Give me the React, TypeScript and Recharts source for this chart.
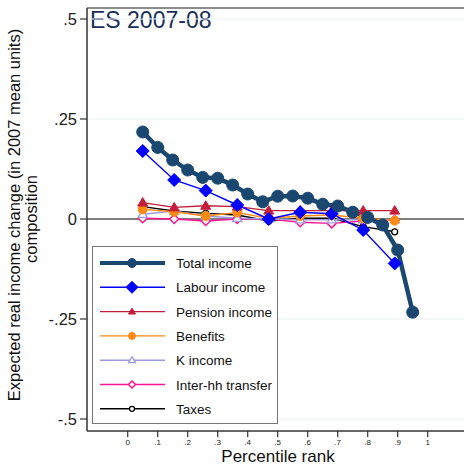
import React from 'react';
import { LineChart, Line, XAxis, YAxis, ReferenceLine } from 'recharts';

// percentile positions
const TOTAL_X = [0.05, 0.1, 0.15, 0.2, 0.25, 0.3, 0.35, 0.4, 0.45, 0.5, 0.55, 0.6, 0.65, 0.7, 0.75, 0.8, 0.85, 0.9, 0.95];
const DECILE_X = [0.05, 0.155, 0.26, 0.365, 0.47, 0.575, 0.68, 0.785, 0.89];

// expected real income change by component
const TOTAL = [0.2175, 0.179, 0.1475, 0.1225, 0.104, 0.102, 0.085, 0.0625, 0.043, 0.057, 0.0575, 0.052, 0.037, 0.0325, 0.017, 0.004, -0.015, -0.0775, -0.233];
const LABOUR = [0.17, 0.0975, 0.071, 0.035, 0.0, 0.017, 0.013, -0.0275, -0.111];
const PENSION = [0.041, 0.029, 0.033, 0.031, 0.021, 0.021, 0.021, 0.021, 0.021];
const BENEFITS = [0.024, 0.018, 0.0075, 0.016, 0.002, 0.0075, 0.01, 0.002, -0.004];
const K_INCOME = [0.012, 0.02, 0.0075, 0.002, 0.0, -0.002, -0.002, -0.002, -0.002];
const INTER_HH = [0.002, 0.0, -0.005, 0.0, 0.0, -0.008, -0.011, -0.005, -0.002];
const TAXES = [0.031, 0.02, 0.014, 0.01, -0.005, 0.002, 0.002, -0.019, -0.032];

const X_TICKS = [0, 0.1, 0.2, 0.3, 0.4, 0.5, 0.6, 0.7, 0.8, 0.9, 1];
const Y_TICKS = [-0.5, -0.25, 0, 0.25, 0.5];

const X_DOMAIN: [number, number] = [-0.1357, 1.121];
const Y_DOMAIN: [number, number] = [-0.53, 0.5275];

const FONT = '"Liberation Sans", Arial, Helvetica, sans-serif';

type Shape = 'circle' | 'diamond' | 'triangle' | 'hollowTriangle' | 'hollowDiamond' | 'hollowCircle';

type Series = {
  name: string;
  xs: number[];
  ys: number[];
  color: string;
  width: number;
  shape: Shape;
  size: number;
  legendSize: number;
};

const SERIES: Series[] = [
  { name: 'Total income', xs: TOTAL_X, ys: TOTAL, color: '#1a476f', width: 4.5, shape: 'circle', size: 6, legendSize: 4.5 },
  { name: 'Labour income', xs: DECILE_X, ys: LABOUR, color: '#0000ff', width: 1.4, shape: 'diamond', size: 6.5, legendSize: 6 },
  { name: 'Pension income', xs: DECILE_X, ys: PENSION, color: '#c41e3a', width: 1.4, shape: 'triangle', size: 5, legendSize: 3.5 },
  { name: 'Benefits', xs: DECILE_X, ys: BENEFITS, color: '#ff8a14', width: 1.4, shape: 'circle', size: 4.5, legendSize: 3.5 },
  { name: 'K income', xs: DECILE_X, ys: K_INCOME, color: '#9b9be0', width: 1.4, shape: 'hollowTriangle', size: 4.5, legendSize: 3.5 },
  { name: 'Inter-hh transfer', xs: DECILE_X, ys: INTER_HH, color: '#ff1493', width: 1.4, shape: 'hollowDiamond', size: 4.5, legendSize: 3.5 },
  { name: 'Taxes', xs: DECILE_X, ys: TAXES, color: '#000000', width: 1.4, shape: 'hollowCircle', size: 3, legendSize: 2.5 },
];

const fmt = (v: number) => {
  if (v === 0) return '0';
  return String(v).replace('0.', '.');
};

const Marker = ({ cx, cy, shape, size, color }: { cx: number; cy: number; shape: Shape; size: number; color: string }) => {
  const s = size;
  switch (shape) {
    case 'circle':
      return <circle cx={cx} cy={cy} r={s} fill={color} stroke={color} />;
    case 'hollowCircle':
      return <circle cx={cx} cy={cy} r={s} fill="#fff" stroke={color} strokeWidth={1.3} />;
    case 'diamond':
      return <polygon points={`${cx},${cy - s} ${cx + s},${cy} ${cx},${cy + s} ${cx - s},${cy}`} fill={color} stroke={color} />;
    case 'hollowDiamond':
      return <polygon points={`${cx},${cy - s} ${cx + s},${cy} ${cx},${cy + s} ${cx - s},${cy}`} fill="#fff" stroke={color} strokeWidth={1.5} />;
    case 'triangle':
      return <polygon points={`${cx},${cy - s} ${cx + s},${cy + s * 0.7} ${cx - s},${cy + s * 0.7}`} fill={color} stroke={color} />;
    case 'hollowTriangle':
      return <polygon points={`${cx},${cy - s} ${cx + s},${cy + s * 0.7} ${cx - s},${cy + s * 0.7}`} fill="#fff" stroke={color} strokeWidth={1.3} />;
  }
  return null;
};

const LegendBox = () => (
  <svg width={187} height={179} style={{ display: 'block' }}>
    <rect x={0.5} y={0.5} width={185} height={177} fill="#fff" stroke="#777" strokeWidth={1} />
    {SERIES.map((s, i) => {
      const y = 17 + i * 24.3;
      return (
        <g key={s.name}>
          <line x1={8} x2={73} y1={y} y2={y} stroke={s.color} strokeWidth={i === 0 ? 4 : 1.4} />
          <Marker cx={40} cy={y} shape={s.shape} size={s.legendSize} color={s.color} />
          <text x={84} y={y + 5} fontSize={13.5} fontFamily={FONT} fill="#111">{s.name}</text>
        </g>
      );
    })}
  </svg>
);

const YLabel = () => (
  <g fontFamily={FONT} fontSize={16.5} fill="#111" textAnchor="middle">
    <text transform="translate(20,215) rotate(-90)">Expected real income change (in 2007 mean units)</text>
    <text transform="translate(37,219) rotate(-90)">composition</text>
  </g>
);

const XLabel = () => (
  <text x={278} y={462} textAnchor="middle" fontFamily={FONT} fontSize={17} fill="#111">Percentile rank</text>
);

export default function App() {
  // draw the thin components first so total income sits on top
  const ordered = [...SERIES].reverse();
  return (
    <div style={{ position: 'absolute', left: 0, top: 0, width: 464, height: 465, overflow: 'hidden', background: '#fff' }}>
      <LineChart width={464} height={465} margin={{ top: 8, right: 0, bottom: 0, left: 0 }}>
        <XAxis
          type="number"
          dataKey="x"
          domain={X_DOMAIN}
          ticks={X_TICKS}
          allowDataOverflow
          height={34}
          tickSize={6}
          tickMargin={2}
          tickFormatter={fmt}
          axisLine={{ stroke: '#333', strokeWidth: 1.5 }}
          tickLine={{ stroke: '#333', strokeWidth: 1.2 }}
          tick={{ fontSize: 8, fontFamily: FONT, fill: '#222' }}
          label={{ content: () => <XLabel /> }}
        />
        <YAxis
          type="number"
          domain={Y_DOMAIN}
          ticks={Y_TICKS}
          allowDataOverflow
          width={87}
          tickSize={7}
          tickMargin={3}
          tickFormatter={fmt}
          axisLine={{ stroke: '#333', strokeWidth: 1.5 }}
          tickLine={{ stroke: '#333', strokeWidth: 1.2 }}
          tick={{ fontSize: 16.5, fontFamily: FONT, fill: '#222' }}
          label={{ content: () => <YLabel /> }}
        />
        {[-0.5, -0.25, 0.25, 0.5].map(v => (
          <ReferenceLine key={v} y={v} stroke="#e8f0f2" strokeWidth={1} />
        ))}
        <ReferenceLine y={Y_DOMAIN[1]} stroke="#666" strokeWidth={1.5} ifOverflow="visible" />
        <ReferenceLine y={0} stroke="#000" strokeWidth={1.2} />
        {ordered.map(s => (
          <Line
            key={s.name}
            data={s.xs.map((x, i) => ({ x, y: s.ys[i] }))}
            dataKey="y"
            name={s.name}
            stroke={s.color}
            strokeWidth={s.width}
            type="linear"
            isAnimationActive={false}
            dot={(p: any) => <Marker key={`${s.name}-${p.index}`} cx={p.cx} cy={p.cy} shape={s.shape} size={s.size} color={s.color} />}
            activeDot={false}
          />
        ))}
        <text x={90} y={28} fontSize={23} fontFamily={FONT} fill="#1a2e5c">ES 2007-08</text>
      </LineChart>
      <div style={{ position: 'absolute', left: 92, top: 246 }}>
        <LegendBox />
      </div>
    </div>
  );
}
